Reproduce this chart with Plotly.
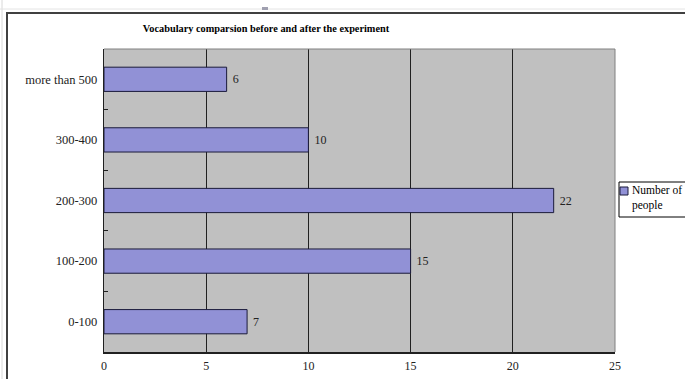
import plotly.graph_objects as go

# Vocabulary size groups (bottom to top) and number of people in each
categories = ["0-100", "100-200", "200-300", "300-400", "more than 500"]
people = [7, 15, 22, 10, 6]
series_name = "Number of<br>people"
x_ticks = [0, 5, 10, 15, 20, 25]

serif = "Liberation Serif"
bar_fill = "#9191D6"
bar_edge = "#1a1a3a"

W, H = 685, 379
L, R, T, B = 104, 70, 49, 27
PW, PH = W - L - R, H - T - B


def px_x(x):
    """Page pixel column -> paper x."""
    return (x - L) / PW


def px_y(y):
    """Page pixel row -> paper y."""
    return (H - B - y) / PH


fig = go.Figure(
    go.Bar(
        x=people,
        y=categories,
        orientation="h",
        width=0.4,
        name=series_name,
        marker=dict(color=bar_fill, line=dict(color=bar_edge, width=1)),
        text=["\u00a0" + str(v) for v in people],
        textposition="outside",
        textfont=dict(family=serif, size=12, color="#222222"),
        cliponaxis=False,
        showlegend=False,
    )
)

# Hand-built legend box at the right edge
legend_shapes = [
    dict(type="rect", xref="paper", yref="paper",
         x0=px_x(619), x1=px_x(690), y0=px_y(182), y1=px_y(217),
         fillcolor="white", line=dict(color="black", width=1), layer="above"),
    dict(type="rect", xref="paper", yref="paper",
         x0=px_x(620), x1=px_x(628), y0=px_y(187), y1=px_y(195),
         fillcolor=bar_fill, line=dict(color=bar_edge, width=1), layer="above"),
]
legend_text = dict(
    text=series_name, xref="paper", yref="paper",
    x=px_x(630), y=px_y(182), xanchor="left", yanchor="top",
    align="left", showarrow=False,
    font=dict(family=serif, size=11.5, color="black"),
)

fig.update_layout(
    width=W,
    height=H,
    margin=dict(l=L, r=R, t=T, b=B, autoexpand=False),
    paper_bgcolor="white",
    plot_bgcolor="#C0C0C0",
    showlegend=False,
    title=dict(
        text="<b>Vocabulary comparsion before and after the experiment</b>",
        font=dict(family=serif, size=10.3, color="black"),
        x=266 / W,
        xref="container",
        xanchor="center",
        y=1 - 28 / H,
        yref="container",
        yanchor="middle",
    ),
    xaxis=dict(
        range=[0, 25],
        tickvals=x_ticks,
        ticktext=[str(t) for t in x_ticks],
        showgrid=True,
        gridcolor="#202020",
        gridwidth=1,
        zeroline=False,
        showline=True,
        linecolor="#202020",
        linewidth=2,
        ticks="",
        ticklabelstandoff=2,
        tickfont=dict(family=serif, size=12, color="#222222"),
    ),
    yaxis=dict(
        showgrid=False,
        zeroline=False,
        showline=True,
        linecolor="#202020",
        linewidth=1,
        ticks="inside",
        tickson="boundaries",
        ticklen=4,
        tickcolor="#202020",
        tickfont=dict(family=serif, size=12.5, color="#222222"),
        ticksuffix=" ",
    ),
    annotations=[legend_text],
    shapes=[
        # plot-area frame (top and right edges)
        dict(type="line", xref="paper", yref="paper", x0=0, x1=1, y0=1, y1=1,
             line=dict(color="#808080", width=1)),
        dict(type="line", xref="paper", yref="paper", x0=1, x1=1, y0=0, y1=1,
             line=dict(color="#808080", width=1)),
        # outer chart border
        dict(type="line", xref="paper", yref="paper",
             x0=px_x(7), x1=px_x(7), y0=px_y(H + 2), y1=px_y(13),
             line=dict(color="#404040", width=2)),
        dict(type="line", xref="paper", yref="paper",
             x0=px_x(6), x1=px_x(W + 2), y0=px_y(13), y1=px_y(13),
             line=dict(color="#404040", width=2)),
        # faint sheet lines outside the chart
        dict(type="line", xref="paper", yref="paper",
             x0=px_x(2), x1=px_x(2), y0=px_y(H), y1=px_y(0),
             line=dict(color="#d8d8d8", width=1)),
        dict(type="line", xref="paper", yref="paper",
             x0=px_x(0), x1=px_x(W), y0=px_y(9), y1=px_y(9),
             line=dict(color="#e4e4e4", width=1)),
        dict(type="rect", xref="paper", yref="paper",
             x0=px_x(262), x1=px_x(268), y0=px_y(10), y1=px_y(7),
             fillcolor="#a0a0b0", line=dict(width=0)),
    ] + legend_shapes,
)

fig.write_html("out.html")
